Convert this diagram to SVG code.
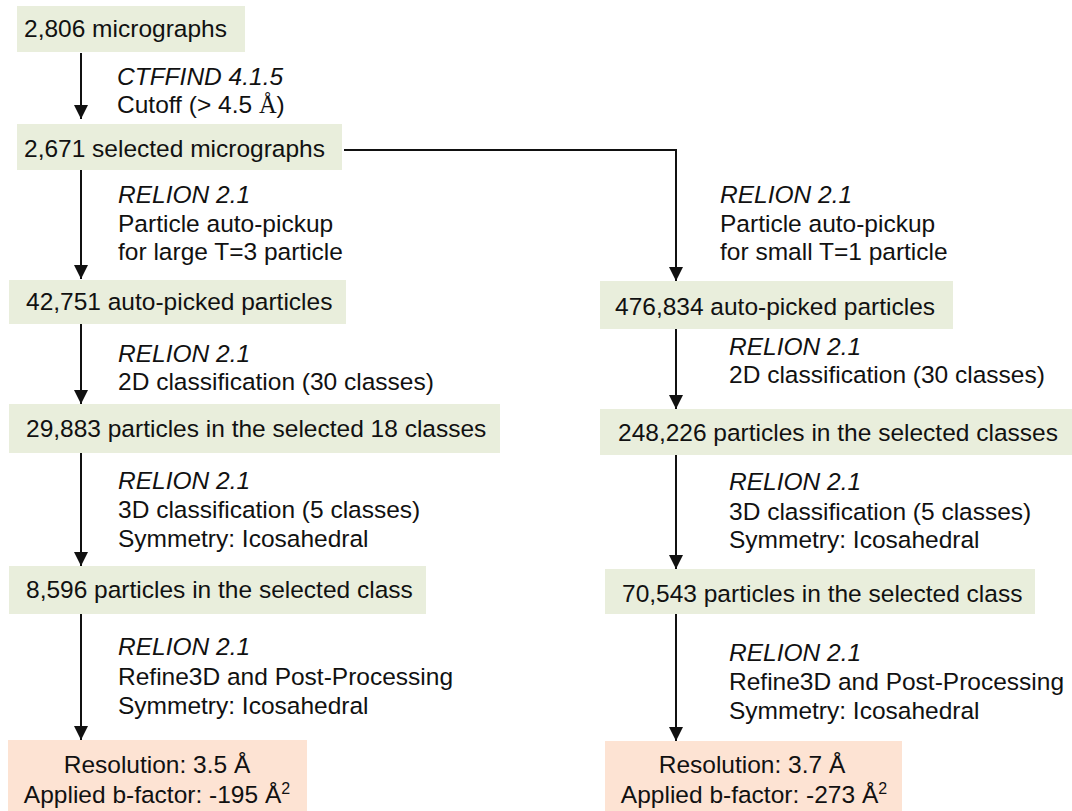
<svg xmlns="http://www.w3.org/2000/svg" width="1072" height="811" viewBox="0 0 1072 811">
<style>
text{font-family:"Liberation Sans",Arial,sans-serif;font-size:24.5px;fill:#111}
.it{font-style:italic}
.box{fill:#e9eedc}
.res{fill:#fde3d3}
.c{stroke:#111;stroke-width:2;fill:none}
.m{text-anchor:middle}
</style>
<defs>
<marker id="ah" viewBox="0 0 14 14" refX="14" refY="7" markerWidth="14" markerHeight="14" markerUnits="userSpaceOnUse" orient="auto">
<path d="M0,0 L14,7 L0,14 Z" fill="#111"/>
</marker>
</defs>
<rect width="1072" height="811" fill="#fff"/>
<g id="connectors">
<line class="c" x1="81" y1="53" x2="81" y2="119" marker-end="url(#ah)"/>
<line class="c" x1="81" y1="170" x2="81" y2="279" marker-end="url(#ah)"/>
<line class="c" x1="81" y1="324" x2="81" y2="404" marker-end="url(#ah)"/>
<line class="c" x1="81" y1="453" x2="81" y2="566" marker-end="url(#ah)"/>
<line class="c" x1="81" y1="614" x2="81" y2="740" marker-end="url(#ah)"/>
<path class="c" d="M344,150 H676 V281" marker-end="url(#ah)"/>
<line class="c" x1="676" y1="329" x2="676" y2="409" marker-end="url(#ah)"/>
<line class="c" x1="676" y1="455" x2="676" y2="569" marker-end="url(#ah)"/>
<line class="c" x1="676" y1="614" x2="676" y2="741" marker-end="url(#ah)"/>
</g>
<g id="labels">
<text class="it" x="117" y="85">CTFFIND 4.1.5</text>
<text x="117" y="113">Cutoff (&gt; 4.5 <tspan font-family="'Liberation Serif',serif">Å</tspan>)</text>
<text class="it" x="118" y="203">RELION 2.1</text>
<text x="118" y="232">Particle auto-pickup</text>
<text x="118" y="260">for large T=3 particle</text>
<text class="it" x="720" y="203">RELION 2.1</text>
<text x="720" y="232">Particle auto-pickup</text>
<text x="720" y="260">for small T=1 particle</text>
<text class="it" x="118" y="362">RELION 2.1</text>
<text x="118" y="390">2D classification (30 classes)</text>
<text class="it" x="729" y="355">RELION 2.1</text>
<text x="729" y="383">2D classification (30 classes)</text>
<text class="it" x="118" y="489">RELION 2.1</text>
<text x="118" y="518">3D classification (5 classes)</text>
<text x="118" y="547">Symmetry: Icosahedral</text>
<text class="it" x="729" y="490">RELION 2.1</text>
<text x="729" y="520">3D classification (5 classes)</text>
<text x="729" y="548">Symmetry: Icosahedral</text>
<text class="it" x="118" y="655">RELION 2.1</text>
<text x="118" y="685">Refine3D and Post-Processing</text>
<text x="118" y="714">Symmetry: Icosahedral</text>
<text class="it" x="729" y="661">RELION 2.1</text>
<text x="729" y="690">Refine3D and Post-Processing</text>
<text x="729" y="719">Symmetry: Icosahedral</text>
</g>
<g id="n1"><rect class="box" x="17" y="6" width="228" height="46"/><text x="24" y="37">2,806 micrographs</text></g>
<g id="n2"><rect class="box" x="17" y="124" width="325" height="46"/><text x="24" y="157">2,671 selected micrographs</text></g>
<g id="n3"><rect class="box" x="9" y="280" width="337" height="44"/><text x="26" y="310">42,751 auto-picked particles</text></g>
<g id="n4"><rect class="box" x="9" y="404" width="491" height="49"/><text x="26" y="437">29,883 particles in the selected 18 classes</text></g>
<g id="n5"><rect class="box" x="9" y="566" width="417" height="48"/><text x="26" y="598">8,596 particles in the selected class</text></g>
<g id="n6"><rect class="res" x="8" y="740" width="299" height="71"/><text class="m" x="157" y="773">Resolution: 3.5 Å</text><text class="m" x="157" y="803">Applied b-factor: -195 Å<tspan font-size="16" dy="-9">2</tspan></text></g>
<g id="r1"><rect class="box" x="600" y="281" width="353" height="48"/><text x="615" y="315">476,834 auto-picked particles</text></g>
<g id="r2"><rect class="box" x="600" y="409" width="472" height="46"/><text x="618" y="441">248,226 particles in the selected classes</text></g>
<g id="r3"><rect class="box" x="605" y="569" width="430" height="45"/><text x="622" y="602">70,543 particles in the selected class</text></g>
<g id="r4"><rect class="res" x="605" y="741" width="297" height="70"/><text class="m" x="752" y="773">Resolution: 3.7 Å</text><text class="m" x="754" y="803">Applied b-factor: -273 Å<tspan font-size="16" dy="-9">2</tspan></text></g>
</svg>
